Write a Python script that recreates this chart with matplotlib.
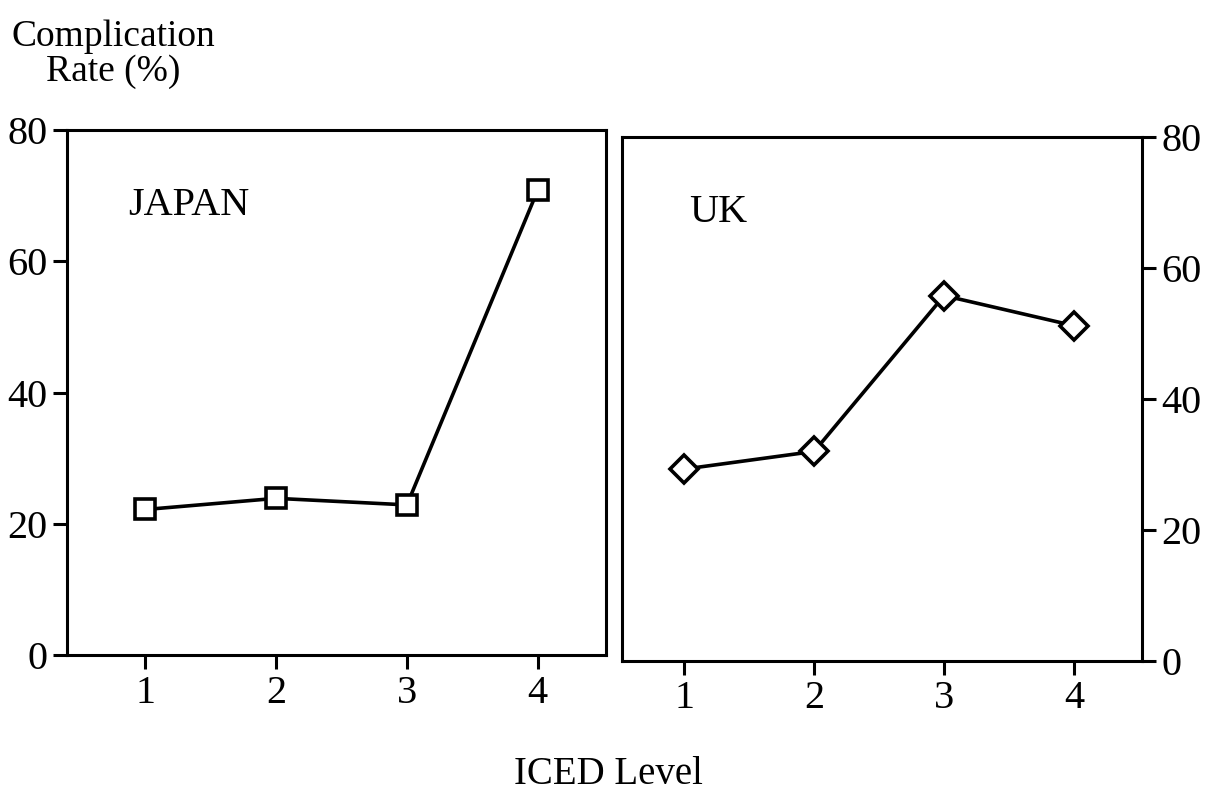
import numpy as np
import matplotlib
matplotlib.use("Agg")
import matplotlib.pyplot as plt

plt.rcParams['font.family'] = ['Liberation Serif', 'DejaVu Serif']

# data
iced_levels = [1, 2, 3, 4]
japan_rate = [22.2, 23.9, 22.9, 70.8]
uk_rate = [29.3, 32.0, 55.8, 51.2]
y_ticks = [0, 20, 40, 60, 80]

fig = plt.figure(figsize=(12.05, 8.07), dpi=100)

ax_jp = fig.add_axes([0.0556, 0.188, 0.447, 0.651])
ax_uk = fig.add_axes([0.516, 0.181, 0.4315, 0.649])

for ax in (ax_jp, ax_uk):
    for sp in ax.spines.values():
        sp.set_linewidth(2.2)
    ax.set_ylim(0, 80)
    ax.set_yticks(y_ticks)
    ax.set_xticks(iced_levels)
    ax.tick_params(axis='both', direction='out', length=10, width=2.2,
                   labelsize=29, pad=4)

ax_jp.set_xlim(0.4, 4.52)
ax_uk.set_xlim(0.52, 4.52)

# Japan: open squares
ax_jp.plot(iced_levels, japan_rate, color='black', linewidth=2.6,
           marker='s', markersize=15, markerfacecolor='white',
           markeredgecolor='black', markeredgewidth=2.6)
ax_jp.text(0.113, 0.857, "JAPAN", transform=ax_jp.transAxes,
           fontsize=29, va='center', ha='left')

# UK: open diamonds, y axis on the right
ax_uk.plot(iced_levels, uk_rate, color='black', linewidth=2.6,
           marker='D', markersize=14, markerfacecolor='white',
           markeredgecolor='black', markeredgewidth=2.6)
ax_uk.yaxis.tick_right()
ax_uk.text(0.13, 0.857, "UK", transform=ax_uk.transAxes,
           fontsize=29, va='center', ha='left')

fig.text(0.094, 0.933, "Complication\nRate (%)", ha='center', va='center',
         fontsize=27, linespacing=1.0)
fig.text(0.505, 0.04, "ICED Level", ha='center', va='center', fontsize=28)

fig.savefig("out.png", dpi=100)
